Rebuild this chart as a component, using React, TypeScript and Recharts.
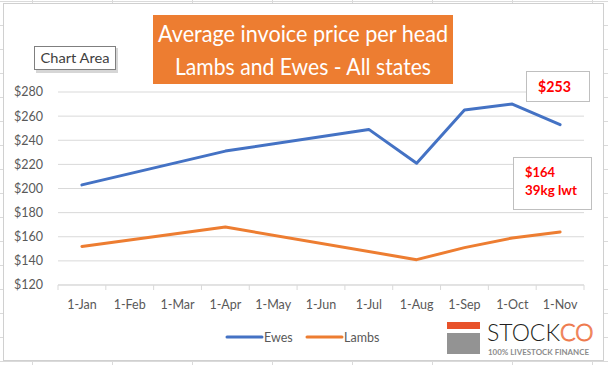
import React from 'react';
import { LineChart, Line, XAxis, YAxis, CartesianGrid } from 'recharts';

const months = ['1-Jan', '1-Feb', '1-Mar', '1-Apr', '1-May', '1-Jun', '1-Jul', '1-Aug', '1-Sep', '1-Oct', '1-Nov'];
const ewes: (number | null)[] = [203, null, null, 231, null, null, 249, 221, 265, 270, 253];
const lambs: (number | null)[] = [152, null, null, 168, null, null, null, 141, 151, 159, 164];
const yTicks = [120, 140, 160, 180, 200, 220, 240, 260, 280];
const seriesNames = ['Ewes', 'Lambs'];
const seriesColors = ['#4472C4', '#ED7D31'];
const titleLines = ['Average invoice price per head', 'Lambs and Ewes - All states'];
const ewesNote = ['$253'];
const lambsNote = ['$164', '39kg lwt'];

const data = months.map((m, i) => ({ x: i + 0.5, month: m, Ewes: ewes[i], Lambs: lambs[i] }));
const xTicks = months.map((_, i) => i + 0.5);

const W = 608;
const H = 365;
const M = { top: 92, right: 24, left: 0, bottom: 50 };
const Y_W = 58;
const PLOT_W = W - M.left - M.right - Y_W;
const HALF = PLOT_W / (months.length * 2);
const FONT = 'Lato, "Open Sans", sans-serif';
const GRID = '#d9d9d9';

const XTick = (props: any) => {
  const { x, y, payload } = props;
  const i = Math.round(payload.value - 0.5);
  const last = i === months.length - 1;
  return (
    <g>
      <line x1={x - HALF} x2={x - HALF} y1={y} y2={y + 5} stroke={GRID} />
      {last && <line x1={x + HALF} x2={x + HALF} y1={y} y2={y + 5} stroke={GRID} />}
      <text x={x} y={y + 15} dy="0.71em" textAnchor="middle" fill="#595959" fontSize={12.5} fontFamily={FONT}>
        {months[i]}
      </text>
    </g>
  );
};

const Background = () => {
  const vs: number[] = [];
  for (let x = 32; x < W; x += 80) vs.push(x);
  const hs: number[] = [];
  for (let y = 1; y < H; y += 24) hs.push(y);
  return (
    <svg width={W} height={H} style={{ position: 'absolute', left: 0, top: 0 }}>
      <rect x={0} y={0} width={W} height={H} fill="#fff" />
      {vs.map((x) => (
        <line key={'v' + x} x1={x + 0.5} x2={x + 0.5} y1={0} y2={H} stroke="#dadada" />
      ))}
      {hs.map((y) => (
        <line key={'h' + y} x1={0} x2={W} y1={y + 0.5} y2={y + 0.5} stroke="#dadada" />
      ))}
      <rect x={3.5} y={3.5} width={600} height={357} fill="#fff" stroke="#d0d0d0" />
    </svg>
  );
};

const Overlay = () => (
  <svg width={W} height={H} style={{ position: 'absolute', left: 0, top: 0, pointerEvents: 'none' }}>
    {/* title */}
    <rect x={153} y={15} width={300} height={69} fill="#ED7D31" />
    <text x={303} y={42} textAnchor="middle" fill="#fff" fontSize={24} fontFamily={FONT} textLength={290} lengthAdjust="spacingAndGlyphs">
      {titleLines[0]}
    </text>
    <text x={303} y={75} textAnchor="middle" fill="#fff" fontSize={24} fontFamily={FONT} textLength={256} lengthAdjust="spacingAndGlyphs">
      {titleLines[1]}
    </text>

    {/* Chart Area tooltip */}
    <rect x={36} y={48} width={82} height={25} fill="#c4c4c4" opacity={0.7} />
    <rect x={34.5} y={46.5} width={81} height={23} fill="#fff" stroke="#7f7f7f" />
    <text x={75} y={63} textAnchor="middle" fill="#404040" fontSize={14} fontFamily={FONT} textLength={69} lengthAdjust="spacingAndGlyphs">
      Chart Area
    </text>

    {/* annotation boxes */}
    <rect x={526.5} y={71.5} width={63} height={30} fill="#fff" stroke="#bfbfbf" />
    <text x={538} y={92} fill="#ff0000" fontWeight="bold" fontSize={15} fontFamily={FONT} textLength={33} lengthAdjust="spacingAndGlyphs">
      {ewesNote[0]}
    </text>
    <rect x={513.5} y={157.5} width={78} height={52} fill="#fff" stroke="#bfbfbf" />
    <text x={525} y={177} fill="#ff0000" fontWeight="bold" fontSize={13.5} fontFamily={FONT} textLength={30} lengthAdjust="spacingAndGlyphs">
      {lambsNote[0]}
    </text>
    <text x={525} y={195} fill="#ff0000" fontWeight="bold" fontSize={13.5} fontFamily={FONT} textLength={52} lengthAdjust="spacingAndGlyphs">
      {lambsNote[1]}
    </text>

    {/* legend */}
    {seriesNames.map((name, i) => {
      const x0 = i === 0 ? 227 : 307;
      return (
        <g key={name}>
          <line x1={x0} x2={x0 + 35} y1={337} y2={337} stroke={seriesColors[i]} strokeWidth={3} strokeLinecap="round" />
          <text x={x0 + 37} y={341.5} fill="#595959" fontSize={12.5} fontFamily={FONT}>
            {name}
          </text>
        </g>
      );
    })}

    {/* logo */}
    <rect x={447} y={322} width={33} height={7} fill="#E8522A" />
    <rect x={447} y={333} width={33} height={21} fill="#939393" />
    <text x={487} y={341} fill="#231f20" fontSize={23} fontWeight={300} fontFamily={FONT}>
      STOCK
    </text>
    <text x={560} y={341} fill="#fff" stroke="#EE7A4E" strokeWidth={1} fontSize={23} fontWeight={300} fontFamily={FONT}>
      CO
    </text>
    <text x={488} y={354.5} fill="#8c8c8c" fontSize={7.5} fontWeight="bold" fontFamily={FONT} textLength={101} lengthAdjust="spacingAndGlyphs">
      100% LIVESTOCK FINANCE
    </text>
  </svg>
);

export default function App() {
  return (
    <div style={{ position: 'absolute', left: 0, top: 0, width: W, height: H, overflow: 'hidden', background: '#fff' }}>
      <Background />
      <div style={{ position: 'absolute', left: 0, top: 0 }}>
        <LineChart width={W} height={H} data={data} margin={M}>
          <CartesianGrid horizontal vertical={false} stroke={GRID} />
          <XAxis
            dataKey="x"
            type="number"
            domain={[0, months.length]}
            ticks={xTicks}
            interval={0}
            height={30}
            tickSize={0}
            tickMargin={0}
            tickLine={false}
            axisLine={{ stroke: GRID }}
            tick={<XTick />}
          />
          <YAxis
            domain={[120, 280]}
            ticks={yTicks}
            width={Y_W}
            tickSize={0}
            tickMargin={15}
            axisLine={false}
            tickLine={false}
            tickFormatter={(v: number) => `$${v}`}
            tick={{ fill: '#595959', fontSize: 12.5, fontFamily: FONT }}
          />
          {seriesNames.map((name, i) => (
            <Line
              key={name}
              dataKey={name}
              stroke={seriesColors[i]}
              strokeWidth={3}
              dot={false}
              activeDot={false}
              connectNulls
              isAnimationActive={false}
              strokeLinecap="round"
              strokeLinejoin="round"
            />
          ))}
        </LineChart>
      </div>
      <Overlay />
    </div>
  );
}
